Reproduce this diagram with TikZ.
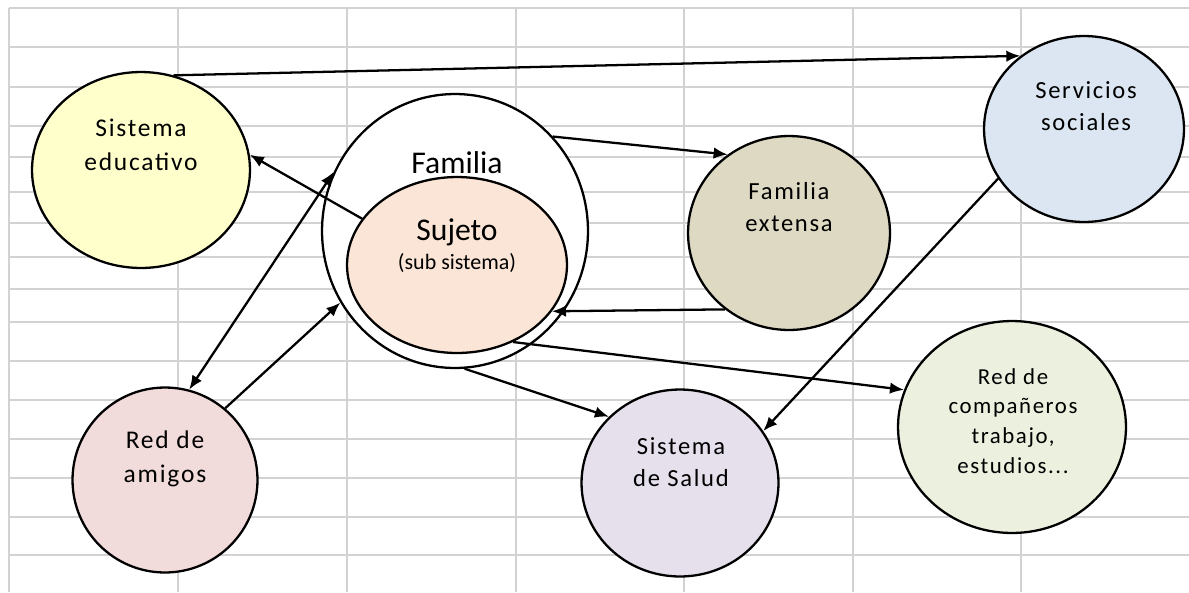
\documentclass[tikz,border=0pt]{standalone}
\usepackage{fontspec}
\setmainfont{Carlito}
\newfontfamily\trk[LetterSpace=7]{Carlito}
\usetikzlibrary{arrows.meta,shapes.geometric}
\definecolor{educfill}{HTML}{FFFFCC}
\definecolor{sujfill}{HTML}{FBE5D6}
\definecolor{servfill}{HTML}{DCE6F2}
\definecolor{extfill}{HTML}{DDD9C3}
\definecolor{amigfill}{HTML}{F2DCDB}
\definecolor{salfill}{HTML}{E5E0EC}
\definecolor{compfill}{HTML}{EBF1DE}
\tikzset{>={Latex[length=8pt,width=6.5pt]}}
\tikzset{circ/.style={ellipse,draw,line width=1.3pt,inner sep=0pt},
  lbl/.style={align=center,inner sep=0pt},
  con/.style={line width=1.3pt,->},
  grid line/.style={draw=gray!35,line width=0.9pt}}

\begin{document}
\begin{tikzpicture}[x=0.02cm,y=-0.02cm]
\useasboundingbox (0,0) rectangle (1189,592);
\foreach \gx in {9,178,347,516,684,853,1021}
  \draw[grid line] (\gx,8) -- (\gx,592);
\foreach \gy in {8,47,87,126,157,192,223,257,289,322,361,400,439,478,517,555}
  \draw[grid line] (9,\gy) -- (1189,\gy);

\node[circ,fill=educfill,minimum width=4.36cm,minimum height=3.92cm] (educ) at (141,170) {};
\node[circ,fill=white,minimum width=5.32cm,minimum height=5.48cm] (fam) at (455,231) {};
\node[circ,fill=sujfill,minimum width=4.4cm,minimum height=3.52cm] (suj) at (457,265) {};
\node[circ,fill=servfill,minimum width=4cm,minimum height=3.72cm] (serv) at (1084,129) {};
\node[circ,fill=extfill,minimum width=4.04cm,minimum height=3.88cm] (ext) at (789,233) {};
\node[circ,fill=amigfill,minimum width=3.7cm,minimum height=3.7cm] (amig) at (165,480) {};
\node[circ,fill=salfill,minimum width=3.94cm,minimum height=3.74cm] (sal) at (680,483) {};
\node[circ,fill=compfill,minimum width=4.56cm,minimum height=4.24cm] (comp) at (1012,427) {};

\node[lbl,font=\trk\fontsize{14.5}{19}\selectfont] (educ-txt) at (141,145) {Sistema\\educativo};
\node[lbl,font=\fontsize{18}{20}\selectfont] (fam-txt) at (457,163) {Familia};
\node[lbl,font=\fontsize{18}{20}\selectfont] (suj-txt) at (457,232) {Sujeto};
\node[lbl,font=\fontsize{12.5}{14}\selectfont] (suj-sub) at (457,263) {(sub sistema)};
\node[lbl,font=\trk\fontsize{14}{18}\selectfont] (serv-txt) at (1086,106) {Servicios\\sociales};
\node[lbl,font=\trk\fontsize{14}{18}\selectfont] (ext-txt) at (789,207) {Familia\\extensa};
\node[lbl,font=\trk\fontsize{14.5}{19}\selectfont] (amig-txt) at (165,459) {Red de\\amigos};
\node[lbl,font=\trk\fontsize{14}{18}\selectfont] (sal-txt) at (681,462) {Sistema\\de Salud};
\node[lbl,font=\trk\fontsize{13}{17}\selectfont] (comp-txt) at (1013,421) {Red de\\compañeros\\trabajo,\\estudios...};

\draw[con] (educ.71) -- (serv.131);
\draw[con] (suj.154) -- (educ.8);
\draw[con,<->] (fam.154) -- (amig.75);
\draw[con] (amig.50) -- (fam.212);
\draw[con] (fam.44) -- (ext.128);
\draw[con] (ext.230) -- (suj.334);
\draw[con] (suj.306) -- (comp.161);
\draw[con] (fam.274) -- (sal.137);
\draw[con] (serv.210) -- (sal.32);
\end{tikzpicture}
\end{document}
